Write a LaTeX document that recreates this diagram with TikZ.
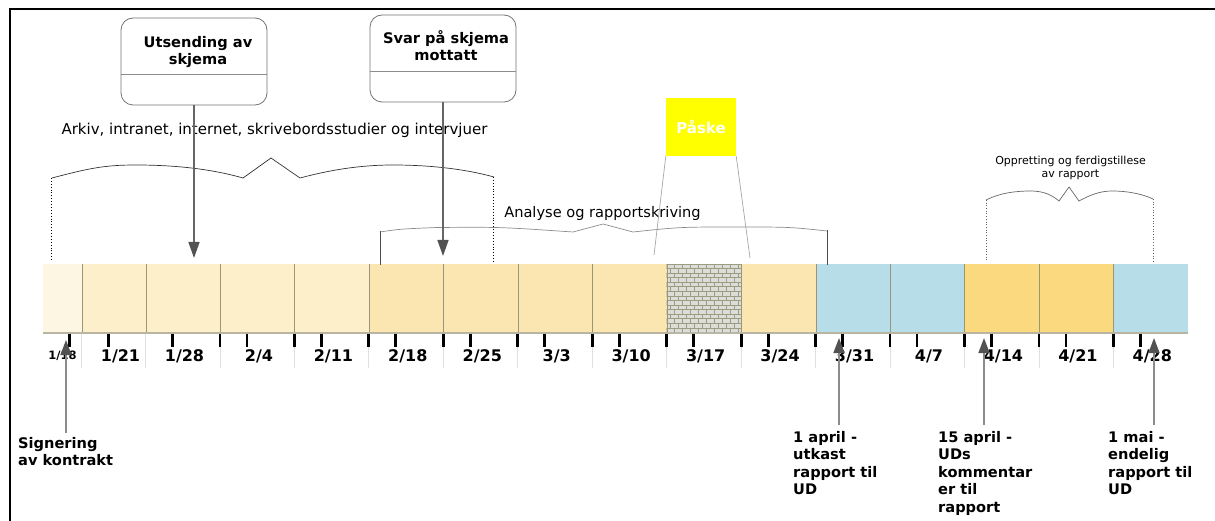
\documentclass[tikz,border=0pt]{standalone}
\usepackage{fontspec}
\setmainfont{DejaVu Sans}
\usepackage{xcolor}
\usetikzlibrary{arrows.meta,positioning}
\definecolor{weekA}{HTML}{FDF6E3}
\definecolor{weekB}{HTML}{FCEFC9}
\definecolor{weekC}{HTML}{FBE5B0}
\definecolor{weekBlue}{HTML}{B7DDE8}
\definecolor{weekGold}{HTML}{FAD97F}
\definecolor{seam}{HTML}{9A967A}
\definecolor{brick}{HTML}{DCDCD8}
\definecolor{mortar}{HTML}{9C9C80}
\definecolor{easteryellow}{HTML}{FFFF00}

\begin{document}
\begin{tikzpicture}[
  x=1pt, y=-1pt,
  week/.style={rectangle, inner sep=0pt, minimum height=68.5pt, fill=#1},
  seamline/.style={draw=seam, line width=0.8pt},
  barfoot/.style={draw=seam!70, line width=2pt},
  tickmark/.style={draw=black, line width=2.8pt},
  sepline/.style={draw=black!12, line width=0.8pt},
  datelabel/.style={anchor=base, inner sep=0pt, font=\bfseries\fontsize{16}{18}\selectfont},
  callout/.style={rectangle, draw=black!55, rounded corners=12pt, fill=white,
    minimum width=146pt, minimum height=87pt, line width=0.8pt},
  calldiv/.style={draw=black!45, line width=0.8pt},
  calltext/.style={anchor=north, align=center, inner sep=0pt,
    font=\bfseries\fontsize{14.6}{16.6}\selectfont},
  phase/.style={anchor=base, inner sep=0pt, font=\fontsize{15}{18}\selectfont},
  easter/.style={rectangle, fill=easteryellow, minimum width=70pt, minimum height=58pt,
    text=white, font=\bfseries\fontsize{15}{16}\selectfont},
  milestone/.style={anchor=north west, align=left, inner sep=0pt,
    font=\bfseries\fontsize{14.6}{17.5}\selectfont},
  callarrow/.style={draw=black!60, line width=1.5pt, -{Triangle[length=16pt,width=11pt,color=black!68]}},
  msarrow/.style={draw=black!45, line width=1.5pt, -{Triangle[length=15pt,width=11pt,color=black!68]}},
  brace/.style={draw=black!80, line width=0.7pt},
  lightbrace/.style={draw=black!45, line width=0.7pt},
  pointer/.style={draw=black!35, line width=0.7pt},
  >=Stealth
]
  \useasboundingbox (0,0) rectangle (1215,521);
  \draw[line width=2pt] (10,521) -- (10,9) -- (1215,9);

  \foreach \n/\a/\b/\c in {1/43/81.7/weekA, 2/81.7/145.7/weekB, 3/145.7/220.15/weekB,
      4/220.15/294.6/weekB, 5/294.6/369.05/weekB, 6/369.05/443.5/weekC,
      7/443.5/517.95/weekC, 8/517.95/592.4/weekC, 9/592.4/666.85/weekC,
      10/666.85/741.3/brick, 11/741.3/815.75/weekC, 12/815.75/890.2/weekBlue,
      13/890.2/964.65/weekBlue, 14/964.65/1039.1/weekGold, 15/1039.1/1113.55/weekGold,
      16/1113.55/1188/weekBlue}
    \node[week=\c, minimum width={(\b-\a)*1pt}] (w\n) at ({(\a+\b)/2},298.25) {};

  \begin{scope}
    \clip (w10.north west) rectangle (w10.south east);
    \foreach \r in {0,...,15} {
      \pgfmathsetmacro\yy{264+\r*4.57}
      \pgfmathsetmacro\off{mod(\r,2)*4}
      \draw[draw=mortar, line width=0.8pt] (666,\yy) -- (742,\yy);
      \foreach \k in {0,...,9}
        \draw[draw=mortar, line width=0.8pt] ({666.85+\off+\k*8},\yy) -- ++(0,4.57);
    }
  \end{scope}

  \foreach \n in {1,...,15}
    \draw[seamline] (w\n.north east) -- (w\n.south east);
  \draw[barfoot] (w1.south west) -- (w16.south east);

  \foreach \n in {2,...,16}
    \draw[sepline] ([yshift=-1pt]w\n.south west) -- ++(0,34);
  \foreach \n in {4,...,16}
    \draw[tickmark] ([yshift=-1pt]w\n.south west) -- ++(0,13);
  \foreach \n in {1,...,16}
    \draw[tickmark] ([xshift=27pt, yshift=-1pt]w\n.south west) -- ++(0,13);

  \node[datelabel, font=\bfseries\fontsize{11.5}{13}\selectfont] (d1) at (62.5,359.5) {1/18};
  \foreach \d [count=\n from 2] in {1/21,1/28,2/4,2/11,2/18,2/25,3/3,3/10,3/17,3/24,3/31,4/7,4/14,4/21,4/28}
    \node[datelabel] (d\n) at ([xshift=39pt, yshift=-28.5pt]w\n.south west) {\d};

  \node[callout] (send) at (194,61.5) {};
  \draw[calldiv] (send.west |- 0,74) -- (send.east |- 0,74);
  \node[calltext] (sendtxt) at (198,36.5) {Utsending av\\skjema};
  \node[callout] (reply) at (443,58.5) {};
  \draw[calldiv] (reply.west |- 0,71) -- (reply.east |- 0,71);
  \node[calltext] (replytxt) at (446,30.5) {Svar på skjema\\mottatt};

  \node[phase] (desk) at (274.5,135) {Arkiv, intranet, internet, skrivebordsstudier og intervjuer};
  \draw[brace] (52,178) .. controls (90,168) and (105,165) .. (136,165)
    .. controls (180,165) and (215,170) .. (243,178) -- (271,158) -- (300,178)
    .. controls (330,170) and (360,165) .. (393,165)
    .. controls (430,165) and (465,169) .. (494,177);
  \draw[dotted, line width=0.9pt] (51.5,178) -- (51.5,262);
  \draw[dotted, line width=0.9pt] (493.5,177) -- (493.5,262);

  \node[phase, font=\fontsize{14.6}{18}\selectfont] (write) at (602.5,218) {Analyse og rapportskriving};
  \draw[lightbrace] (380,232) .. controls (400,229) .. (437,227.5)
    .. controls (500,227) .. (573,232) -- (603,224) -- (633,232)
    .. controls (680,227) .. (737,227) .. controls (790,227) .. (827,231);
  \draw[draw=black!70, line width=0.9pt] (380,231) -- (380,265);
  \draw[draw=black!70, line width=0.9pt] (827,230) -- (827,265);

  \node[easter] (paske) at (701,127) {Påske};
  \coordinate (paskeL) at (654,255);
  \coordinate (paskeR) at (750,258);
  \draw[pointer] (paske.south west) -- (paskeL);
  \draw[pointer] (paske.south east) -- (paskeR);

  \node[anchor=north, align=center, inner sep=0pt, font=\fontsize{11}{13}\selectfont]
    (finish) at (1070.5,155.5) {Oppretting og ferdigstillese\\av rapport};
  \draw[lightbrace, draw=black!60] (986,200) .. controls (1000,193) and (1015,191) .. (1031,191)
    .. controls (1045,191) and (1053,196) .. (1059,201) -- (1069,187) -- (1079,201)
    .. controls (1090,195) and (1100,191) .. (1112,191)
    .. controls (1130,191) and (1145,195) .. (1153,199);
  \draw[dotted, draw=black!60, line width=0.7pt] (986,200) -- (986,262);
  \draw[dotted, draw=black!60, line width=0.7pt] (1153,199) -- (1153,262);

  \coordinate (sendtip) at (194,258);
  \coordinate (replytip) at (443,256);
  \draw[callarrow] (send.south) -- (sendtip);
  \draw[callarrow] (reply.south) -- (replytip);

  \node[milestone] (sign) at (18,437) {Signering\\av kontrakt};
  \node[milestone] (draft) at (793,431) {1 april -\\utkast\\rapport til\\UD};
  \node[milestone] (comment) at (938,431) {15 april -\\UDs\\kommentar\\er til\\rapport};
  \node[milestone] (final) at (1108,431) {1 mai -\\endelig\\rapport til\\UD};

  \coordinate (signfoot) at (66,433);
  \coordinate (signtip) at (66,340);
  \coordinate (draftfoot) at (839,425);
  \coordinate (drafttip) at (839,338);
  \coordinate (commentfoot) at (984,425);
  \coordinate (commenttip) at (984,338);
  \coordinate (finalfoot) at (1154,425);
  \coordinate (finaltip) at (1154,338);
  \draw[msarrow] (signfoot) -- (signtip);
  \draw[msarrow] (draftfoot) -- (drafttip);
  \draw[msarrow] (commentfoot) -- (commenttip);
  \draw[msarrow] (finalfoot) -- (finaltip);
\end{tikzpicture}
\end{document}
